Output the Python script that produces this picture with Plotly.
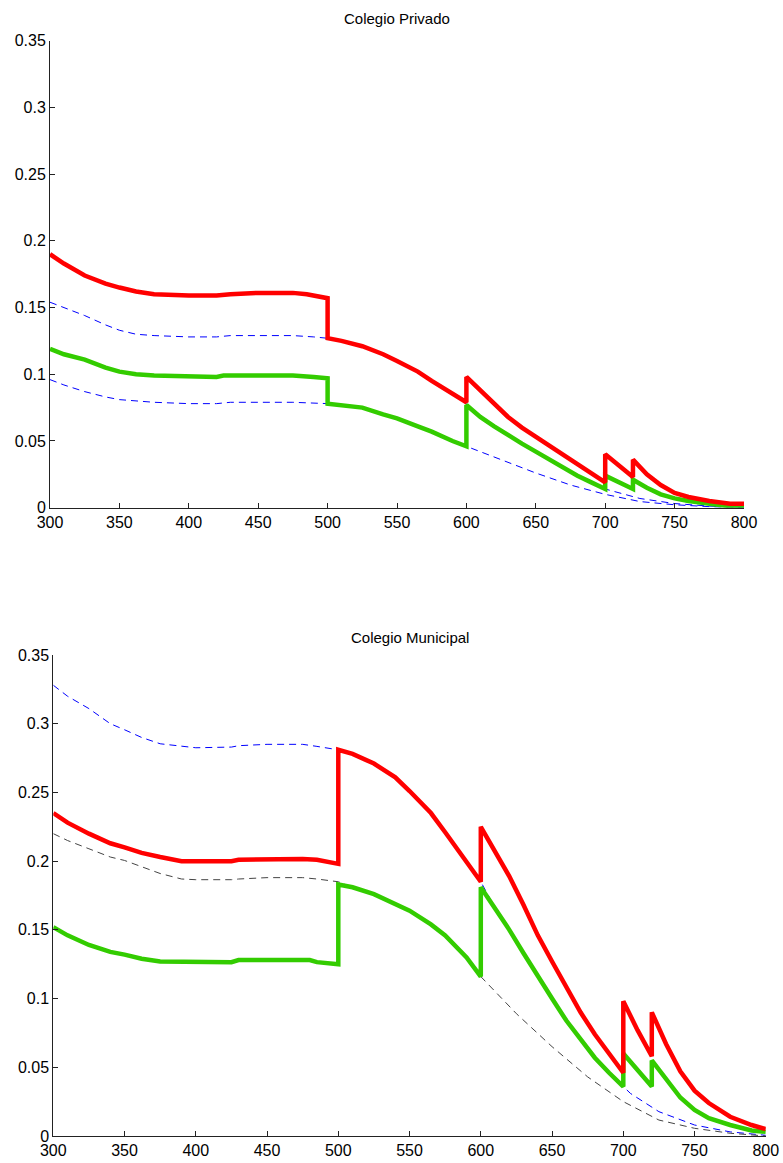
import plotly.graph_objects as go

W, H = 783, 1163

# ---------------- Colegio Privado (top) ----------------
priv_red_x = [300, 310, 325, 340, 350, 362, 375, 390, 400, 420, 430, 450, 475, 485, 490, 498, 500,
              500, 510, 525, 540, 550, 565, 575, 590, 600,
              600, 610, 620, 630, 640, 650, 660, 670, 680, 690, 700,
              700, 710, 720,
              720, 730, 740, 750, 760, 775, 790, 800]
priv_red_y = [0.190, 0.183, 0.174, 0.168, 0.165, 0.162, 0.160, 0.159, 0.159, 0.159, 0.160, 0.161, 0.161, 0.160, 0.159, 0.158, 0.157,
              0.127, 0.125, 0.121, 0.115, 0.110, 0.102, 0.095, 0.085, 0.079,
              0.098, 0.088, 0.077, 0.068, 0.060, 0.053, 0.046, 0.039, 0.032, 0.025, 0.019,
              0.040, 0.031, 0.023,
              0.036, 0.025, 0.017, 0.011, 0.008, 0.005, 0.003, 0.003]

priv_green_x = [300, 310, 325, 340, 350, 362, 375, 400, 420, 425, 450, 475, 490, 498, 500,
                500, 510, 525, 540, 550, 565, 575, 590, 600,
                600, 610, 620, 630, 640, 650, 660, 670, 680, 690, 700,
                700, 710, 720,
                720, 730, 740, 750, 760, 775, 790, 800]
priv_green_y = [0.119, 0.115, 0.111, 0.105, 0.102, 0.100, 0.099, 0.098, 0.098, 0.099, 0.099, 0.099, 0.098, 0.097, 0.097,
                0.078, 0.077, 0.075, 0.070, 0.067, 0.061, 0.057, 0.050, 0.046,
                0.077, 0.068, 0.061, 0.054, 0.048, 0.042, 0.036, 0.030, 0.024, 0.019, 0.014,
                0.024, 0.019, 0.014,
                0.021, 0.015, 0.010, 0.007, 0.005, 0.003, 0.001, 0.001]

priv_upper_x = [300, 310, 325, 340, 350, 362, 375, 400, 420, 430, 450, 475, 490, 500,
                510, 525, 540, 550, 565, 575, 590, 600,
                610, 620, 630, 640, 650, 660, 670, 680, 690, 700,
                725, 750, 775, 800]
priv_upper_y = [0.154, 0.150, 0.144, 0.137, 0.133, 0.130, 0.129, 0.128, 0.128, 0.129, 0.129, 0.129, 0.128, 0.127,
                0.125, 0.121, 0.115, 0.110, 0.102, 0.095, 0.085, 0.078,
                0.068, 0.061, 0.054, 0.048, 0.042, 0.036, 0.030, 0.024, 0.019, 0.014,
                0.0069, 0.0031, 0.0012, 0.0002]

priv_lower_x = [300, 310, 325, 340, 350, 362, 375, 400, 420, 430, 450, 475, 500,
                510, 525, 540, 550, 565, 575, 590, 600,
                625, 650, 675, 700, 725, 750, 775, 800]
priv_lower_y = [0.096, 0.092, 0.087, 0.083, 0.081, 0.080, 0.079, 0.078, 0.078, 0.079, 0.079, 0.079, 0.078,
                0.077, 0.075, 0.070, 0.067, 0.061, 0.057, 0.050, 0.046,
                0.036, 0.026, 0.017, 0.010, 0.0046, 0.0022, 0.0008, 0.0]

# ---------------- Colegio Municipal (bottom) ----------------
mun_red_x = [300, 310, 325, 340, 350, 362, 375, 390, 400, 425, 430, 450, 475, 485, 490, 498, 500,
             500, 510, 525, 540, 550, 565, 575, 590, 600,
             600, 610, 620, 630, 640, 650, 660, 670, 680, 690, 700,
             700, 710, 720,
             720, 730, 740, 750, 760, 775, 790, 800]
mun_red_y = [0.235, 0.228, 0.220, 0.213, 0.210, 0.206, 0.203, 0.200, 0.200, 0.200, 0.201, 0.2015, 0.2015, 0.201, 0.200, 0.199, 0.198,
             0.281, 0.278, 0.271, 0.261, 0.251, 0.235, 0.221, 0.200, 0.185,
             0.225, 0.207, 0.189, 0.168, 0.146, 0.127, 0.108, 0.090, 0.074, 0.060, 0.046,
             0.098, 0.077, 0.058,
             0.090, 0.067, 0.047, 0.033, 0.024, 0.014, 0.008, 0.005]

mun_green_x = [300, 310, 325, 340, 350, 362, 375, 400, 425, 430, 450, 475, 480, 485, 498, 500,
               500, 510, 525, 540, 550, 565, 575, 590, 600,
               600, 610, 620, 630, 640, 650, 660, 670, 680, 690, 700,
               700, 710, 720,
               720, 730, 740, 750, 760, 775, 790, 800]
mun_green_y = [0.152, 0.146, 0.139, 0.134, 0.132, 0.129, 0.127, 0.1265, 0.1265, 0.128, 0.128, 0.128, 0.128, 0.1265, 0.1255, 0.125,
               0.183, 0.181, 0.176, 0.169, 0.164, 0.154, 0.146, 0.130, 0.116,
               0.181, 0.166, 0.150, 0.133, 0.116, 0.100, 0.084, 0.070, 0.057, 0.046, 0.036,
               0.060, 0.048, 0.036,
               0.055, 0.042, 0.028, 0.019, 0.013, 0.008, 0.004, 0.003]

mun_upper_x = [300, 310, 325, 340, 350, 362, 375, 400, 425, 430, 450, 475, 485, 498, 500,
               510, 525, 540, 550, 565, 575, 590, 600,
               610, 620, 630, 640, 650, 660, 670, 680, 690, 700,
               705, 725, 750, 775, 800]
mun_upper_y = [0.328, 0.320, 0.311, 0.300, 0.2956, 0.290, 0.2854, 0.2825, 0.283, 0.284, 0.285, 0.285, 0.2835, 0.2818, 0.281,
               0.278, 0.271, 0.261, 0.251, 0.235, 0.221, 0.200, 0.185,
               0.166, 0.150, 0.133, 0.116, 0.100, 0.084, 0.070, 0.057, 0.046, 0.036,
               0.031, 0.0177, 0.008, 0.003, 0.0005]

mun_lower_x = [300, 310, 325, 340, 350, 362, 375, 390, 400, 425, 430, 450, 475, 485, 500,
               510, 525, 540, 550, 565, 575, 590, 600,
               625, 650, 675, 700, 725, 750, 775, 800]
mun_lower_y = [0.220, 0.215, 0.209, 0.203, 0.2005, 0.196, 0.191, 0.187, 0.1865, 0.1865, 0.187, 0.188, 0.188, 0.187, 0.185,
               0.181, 0.176, 0.169, 0.164, 0.154, 0.146, 0.130, 0.116,
               0.089, 0.065, 0.043, 0.025, 0.0116, 0.0056, 0.002, 0.0]

x_ticks = [300, 350, 400, 450, 500, 550, 600, 650, 700, 750, 800]
y_ticks = [0, 0.05, 0.1, 0.15, 0.2, 0.25, 0.3, 0.35]
y_tick_text = ["0", "0.05", "0.1", "0.15", "0.2", "0.25", "0.3", "0.35"]
titles = ["Colegio Privado", "Colegio Municipal"]

RED = "#ff0000"
GREEN = "#33cc00"
BLUE = "#0000ff"
GREY = "#444444"

fig = go.Figure()

def add_line(x, y, color, width, dash, xa, ya):
    fig.add_trace(go.Scatter(x=x, y=y, mode="lines", xaxis=xa, yaxis=ya,
                             line=dict(color=color, width=width, dash=dash),
                             showlegend=False, hoverinfo="skip"))

# top
add_line(priv_upper_x, priv_upper_y, BLUE, 1, "7px,5px", "x", "y")
add_line(priv_lower_x, priv_lower_y, BLUE, 1, "7px,5px", "x", "y")
add_line(priv_green_x, priv_green_y, GREEN, 4.5, "solid", "x", "y")
add_line(priv_red_x, priv_red_y, RED, 4.5, "solid", "x", "y")
# bottom
add_line(mun_upper_x, mun_upper_y, BLUE, 1, "7px,5px", "x2", "y2")
add_line(mun_lower_x, mun_lower_y, GREY, 1, "7px,5px", "x2", "y2")
add_line(mun_green_x, mun_green_y, GREEN, 4.5, "solid", "x2", "y2")
add_line(mun_red_x, mun_red_y, RED, 4.5, "solid", "x2", "y2")

font = dict(family="Liberation Sans, Arial, sans-serif", size=16, color="#000000")

def xaxis(domain, anchor):
    return dict(domain=domain, anchor=anchor, range=[300, 800], tickvals=x_ticks,
                ticks="inside", ticklen=5, tickcolor="#222", showline=True, linecolor="#222",
                linewidth=1, showgrid=False, zeroline=False, tickfont=font, fixedrange=True,
                automargin=False)

def yaxis(domain, anchor):
    return dict(domain=domain, anchor=anchor, range=[0, 0.35], tickvals=y_ticks, ticktext=y_tick_text,
                ticks="inside", ticklen=5, tickcolor="#222", showline=True, linecolor="#222",
                linewidth=1, showgrid=False, zeroline=False, tickfont=font, fixedrange=True,
                automargin=False)

top_x = [50 / W, 744 / W]
top_y = [1 - 507.7 / H, 1 - 40.7 / H]
bot_x = [53.3 / W, 765.8 / W]
bot_y = [1 - 1136 / H, 1 - 655 / H]

title_font = dict(family="Liberation Sans, Arial, sans-serif", size=15, color="#000")

fig.update_layout(
    width=W, height=H,
    margin=dict(l=0, r=0, t=0, b=0, autoexpand=False),
    paper_bgcolor="white", plot_bgcolor="white",
    xaxis=xaxis(top_x, "y"), yaxis=yaxis(top_y, "x"),
    xaxis2=xaxis(bot_x, "y2"), yaxis2=yaxis(bot_y, "x2"),
    annotations=[
        dict(text=titles[0], x=(top_x[0] + top_x[1]) / 2, y=1 - 18 / H, xref="paper", yref="paper",
             xanchor="center", yanchor="middle", showarrow=False, font=title_font),
        dict(text=titles[1], x=(bot_x[0] + bot_x[1]) / 2, y=1 - 637 / H, xref="paper", yref="paper",
             xanchor="center", yanchor="middle", showarrow=False, font=title_font),
    ],
)

fig.write_html("out.html")
